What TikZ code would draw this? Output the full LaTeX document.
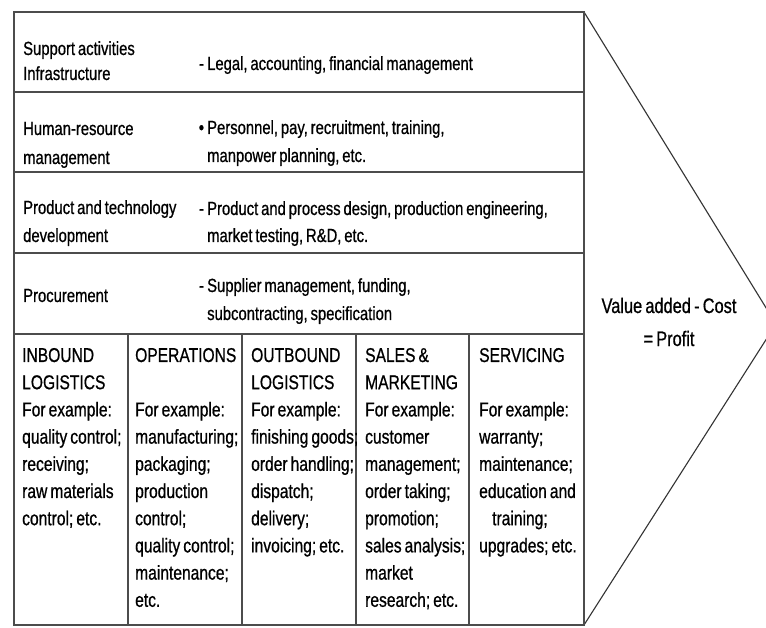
\documentclass[tikz,border=0pt]{standalone}
\usepackage{fontspec}
\setmainfont{Liberation Sans}[FakeStretch=0.78, WordSpace=0.7, FakeBold=0.7]
\begin{document}
\begin{tikzpicture}[x=1pt,y=-1pt,
  frame/.style={line width=1.6pt, draw=black!70},
  arrowline/.style={line width=1.1pt, draw=black!80},
  rowlabel/.style={anchor=base west, inner sep=0pt, text width=170pt, align=flush left},
  rowdesc/.style={anchor=base west, inner sep=0pt, text width=370pt, align=flush left},
  colcell/.style={anchor=base west, inner sep=0pt, text width=118pt, align=flush left, font=\fontsize{20}{27.2}\selectfont},
  valuetext/.style={anchor=center, inner sep=0pt, align=center, font=\fontsize{21}{33}\selectfont}
]
\clip (0,0) rectangle (766,628);
\fill[white] (0,0) rectangle (766,628);
% corners
\coordinate (tl) at (14,12);
\coordinate (tr) at (584,12);
\coordinate (bl) at (14,625);
\coordinate (br) at (584,625);
\coordinate (tip) at (776,324);
% arrow outline
\draw[arrowline] (tr) -- (tip) -- (br);
% table frame
\draw[frame] (tl) rectangle (br);
\foreach \yy in {92,172,253,334} {\draw[frame] (14,\yy) -- (584,\yy);}
\foreach \xx in {128,242,356,469} {\draw[frame] (\xx,334) -- (\xx,625);}
% support rows: labels
\node[rowlabel, font=\fontsize{19}{25}\selectfont] (lab1) at (23,55) {Support activities\\Infrastructure};
\node[rowlabel, font=\fontsize{19}{29}\selectfont] (lab2) at (23,135) {Human-resource\\management};
\node[rowlabel, font=\fontsize{19}{28}\selectfont] (lab3) at (23,214) {Product and technology\\development};
\node[rowlabel, font=\fontsize{19}{28}\selectfont] (lab4) at (23,302) {Procurement};
% support rows: descriptions
\node[rowdesc, font=\fontsize{19}{28}\selectfont] (desc1) at (207,70) {\leavevmode\llap{-\,}Legal, accounting, financial management};
\node[rowdesc, font=\fontsize{19}{28}\selectfont] (desc2) at (207,134) {\leavevmode\llap{•\,}Personnel, pay, recruitment, training,\\manpower planning, etc.};
\node[rowdesc, font=\fontsize{19}{27}\selectfont] (desc3) at (207,215) {\leavevmode\llap{-\,}Product and process design, production engineering,\\market testing, R\&D, etc.};
\node[rowdesc, font=\fontsize{19}{28}\selectfont] (desc4) at (207,292) {\leavevmode\llap{-\,}Supplier management, funding,\\subcontracting, specification};
% primary activities
\node[colcell] (inb) at (22,362) {INBOUND\\LOGISTICS\\For example:\\quality control;\\receiving;\\raw materials\\control; etc.};
\node[colcell] (ops) at (135,362) {OPERATIONS\\[27.2pt]For example:\\manufacturing;\\packaging;\\production\\control;\\quality control;\\maintenance;\\etc.};
\node[colcell] (outb) at (251,362) {OUTBOUND\\LOGISTICS\\For example:\\finishing goods;\\order handling;\\dispatch;\\delivery;\\invoicing; etc.};
\node[colcell] (sales) at (365,362) {SALES \&\\MARKETING\\For example:\\customer\\management;\\order taking;\\promotion;\\sales analysis;\\market\\research; etc.};
\node[colcell] (serv) at (479,362) {SERVICING\\[27.2pt]For example:\\warranty;\\maintenance;\\education and\\\hspace*{13pt}training;\\upgrades; etc.};
% margin
\node[valuetext] (value) at (669,322) {Value added - Cost\\= Profit};
\end{tikzpicture}
\end{document}
